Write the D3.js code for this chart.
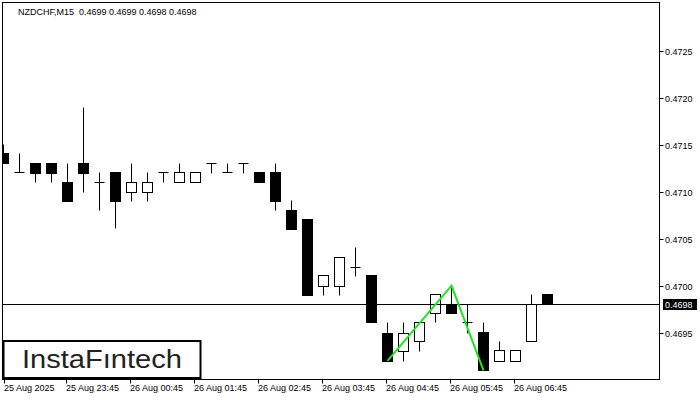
<!DOCTYPE html>
<html>
<head>
<meta charset="utf-8">
<script src="https://cdn.jsdelivr.net/npm/d3@7"></script>
<style>
  html, body { margin: 0; padding: 0; background: #fff; }
  svg { display: block; }
  text { font-family: "Liberation Sans", Arial, sans-serif; }
</style>
</head>
<body>
<svg id="chart" width="700" height="400"></svg>
<script>
// ---- data ----
const symbolTitle = "NZDCHF,M15  0.4699 0.4699 0.4698 0.4698";
const opens  = [0.47141,0.47121,0.47131,0.47131,0.47110,0.47131,0.47110,0.47121,0.47100,0.47100,
                0.47121,0.47110,0.47110,0.47131,0.47121,0.47131,0.47121,0.47121,0.47080,0.47071,
                0.47000,0.47000,0.47020,0.47011,0.46950,0.46931,0.46941,0.46971,0.46981,0.46961,
                0.46951,0.46920,0.46920,0.46941,0.46991];
const highs  = [0.47151,0.47141,0.47131,0.47131,0.47131,0.47190,0.47121,0.47121,0.47131,0.47121,
                0.47121,0.47131,0.47121,0.47131,0.47131,0.47131,0.47121,0.47131,0.47091,0.47071,
                0.47011,0.47030,0.47041,0.47011,0.46961,0.46961,0.46961,0.46991,0.47000,0.46981,
                0.46961,0.46941,0.46932,0.46991,0.46991];
const lows   = [0.47130,0.47121,0.47110,0.47110,0.47090,0.47100,0.47080,0.47061,0.47090,0.47090,
                0.47110,0.47110,0.47110,0.47120,0.47121,0.47120,0.47110,0.47080,0.47060,0.46990,
                0.46990,0.46990,0.47010,0.46961,0.46920,0.46920,0.46931,0.46961,0.46971,0.46950,
                0.46910,0.46920,0.46920,0.46941,0.46981];
const closes = [0.47130,0.47121,0.47120,0.47120,0.47090,0.47120,0.47110,0.47090,0.47110,0.47110,
                0.47121,0.47121,0.47121,0.47131,0.47121,0.47131,0.47110,0.47090,0.47060,0.46990,
                0.47011,0.47030,0.47020,0.46961,0.46920,0.46950,0.46961,0.46991,0.46971,0.46961,
                0.46910,0.46932,0.46932,0.46981,0.46981];
const xTickIndex  = [0,4,8,12,16,20,24,28,32];
const xTickLabels = ["25 Aug 2025","25 Aug 23:45","26 Aug 00:45","26 Aug 01:45","26 Aug 02:45",
                     "26 Aug 03:45","26 Aug 04:45","26 Aug 05:45","26 Aug 06:45"];
const yTicks = [0.4695,0.4700,0.4705,0.4710,0.4715,0.4720,0.4725];
// pattern points: [candle index, which price]
const patternIdx = [24, 28, 30];
const patternKind = ["low", "high", "low"];

// ---- layout ----
const svg = d3.select("#chart");
const plot = { left: 2.5, right: 659.5, top: 2.5, bottom: 379.5 };

const x = d3.scaleLinear().domain([0, 34]).range([3.5, 547.5]);
const y = d3.scaleLinear().domain([0.4695, 0.4725]).range([332.7, 50.7]);
const py = v => Math.round(y(v)) + 0.5;

svg.append("defs").append("clipPath").attr("id", "clip")
  .append("rect").attr("x", plot.left).attr("y", plot.top)
  .attr("width", plot.right - plot.left).attr("height", plot.bottom - plot.top);

const g = svg.append("g").attr("clip-path", "url(#clip)");

const candles = opens.map((o, i) => ({ i, o, h: highs[i], l: lows[i], c: closes[i] }));

// wicks
g.selectAll("line.wick").data(candles).enter().append("line")
  .attr("class", "wick")
  .attr("x1", d => x(d.i)).attr("x2", d => x(d.i))
  .attr("y1", d => py(d.h)).attr("y2", d => py(d.l))
  .attr("stroke", "#000").attr("stroke-width", 1);

// bodies
g.selectAll("rect.body").data(candles.filter(d => Math.abs(py(d.o) - py(d.c)) >= 1)).enter().append("rect")
  .attr("class", "body")
  .attr("x", d => x(d.i) - 5)
  .attr("width", 10)
  .attr("y", d => Math.min(py(d.o), py(d.c)))
  .attr("height", d => Math.abs(py(d.o) - py(d.c)))
  .attr("fill", d => d.c < d.o ? "#000" : "#fff")
  .attr("stroke", "#000").attr("stroke-width", 1);

// doji bars
g.selectAll("line.doji").data(candles.filter(d => Math.abs(py(d.o) - py(d.c)) < 1)).enter().append("line")
  .attr("class", "doji")
  .attr("x1", d => x(d.i) - 5).attr("x2", d => x(d.i) + 5)
  .attr("y1", d => py(d.c)).attr("y2", d => py(d.c))
  .attr("stroke", "#000").attr("stroke-width", 1);

// current price line
const last = closes[closes.length - 1];
g.append("line")
  .attr("x1", plot.left).attr("x2", plot.right)
  .attr("y1", py(last)).attr("y2", py(last))
  .attr("stroke", "#000").attr("stroke-width", 1);

// pattern line
const patternPts = patternIdx.map((k, j) => [x(k), y(patternKind[j] === "low" ? lows[k] : highs[k])]);
g.append("path")
  .attr("d", d3.line()(patternPts))
  .attr("fill", "none").attr("stroke", "#1ee61e").attr("stroke-width", 2);

// frame
svg.append("rect")
  .attr("x", plot.left).attr("y", plot.top)
  .attr("width", plot.right - plot.left).attr("height", plot.bottom - plot.top)
  .attr("fill", "none").attr("stroke", "#000").attr("stroke-width", 1);

// right axis
const yAxis = svg.append("g");
yTicks.forEach(t => {
  const yy = py(t);
  yAxis.append("line").attr("x1", plot.right).attr("x2", plot.right + 4)
    .attr("y1", yy).attr("y2", yy).attr("stroke", "#000");
  yAxis.append("text").attr("x", 665).attr("y", yy + 3.5)
    .attr("font-size", 9).attr("fill", "#000").text(d3.format(".4f")(t));
});

// current price label
svg.append("rect").attr("x", 663).attr("y", py(last) - 5.5).attr("width", 34).attr("height", 11).attr("fill", "#000");
svg.append("text").attr("x", 665).attr("y", py(last) + 3.5)
  .attr("font-size", 9).attr("fill", "#fff").text(d3.format(".4f")(last));

// bottom axis
const xAxis = svg.append("g");
xTickIndex.forEach((k, j) => {
  const xx = Math.max(4.5, Math.round(x(k)) - 1.5);
  xAxis.append("line").attr("x1", xx).attr("x2", xx)
    .attr("y1", plot.bottom).attr("y2", plot.bottom + 4).attr("stroke", "#000");
  xAxis.append("text").attr("x", xx - 0.5).attr("y", 391)
    .attr("font-size", 9).attr("fill", "#000").text(xTickLabels[j]);
});

// title
svg.append("text").attr("x", 18).attr("y", 15)
  .attr("font-size", 9).attr("fill", "#000").attr("xml:space", "preserve")
  .style("white-space", "pre").text(symbolTitle);

// logo
svg.append("rect").attr("x", 3.5).attr("y", 341).attr("width", 197).attr("height", 37)
  .attr("fill", "#fff").attr("stroke", "#000").attr("stroke-width", 2);
svg.append("text").attr("x", 102).attr("y", 368)
  .attr("text-anchor", "middle")
  .attr("font-family", "Inter, 'Noto Sans', sans-serif")
  .attr("font-weight", 500)
  .attr("font-size", 25)
  .attr("fill", "#222")
  .attr("textLength", 160).attr("lengthAdjust", "spacingAndGlyphs")
  .text("InstaF\u0131ntech");
</script>
</body>
</html>
